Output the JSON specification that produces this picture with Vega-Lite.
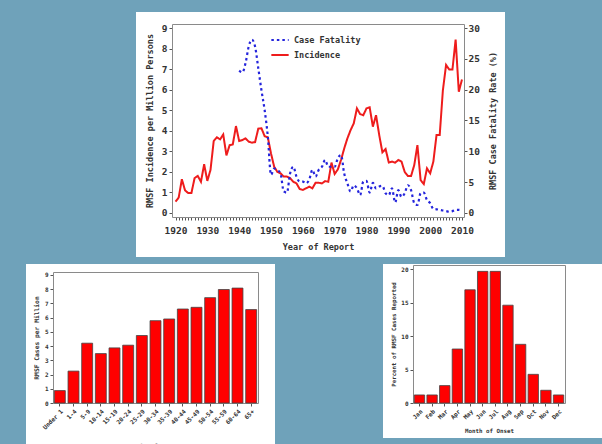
{
  "$schema": "https://vega.github.io/schema/vega-lite/v6.json",
  "background": "#6fa2ba",
  "padding": {"left": 26, "top": 12, "right": 0, "bottom": 0},
  "bounds": "full",
  "center": true,
  "spacing": 7,
  "config": {
    "axis": {"grid": false, "domainColor": "#8a8a8a", "tickColor": "#555555", "labelColor": "#333333", "titleColor": "#333333", "labelFont": "DejaVu Sans Mono", "titleFont": "DejaVu Sans Mono", "labelFontWeight": "bold", "titleFontWeight": "bold", "minExtent": 0, "labelFlush": false, "labelOverlap": false, "domainWidth": 1},
    "legend": {"orient": "none", "legendX": 244, "legendY": 18, "direction": "vertical", "labelFont": "DejaVu Sans Mono", "labelFontWeight": "bold", "labelColor": "#333333", "labelFontSize": 8.5, "padding": 0, "rowPadding": 0, "symbolSize": 300, "symbolStrokeWidth": 2, "labelOffset": 4}
  },
  "vconcat": [
    {
      "width": 369,
      "height": 245,
      "view": {"fill": "white", "stroke": null},
      "data": {"values": [
        {"year":1920,"series":"Incidence","value":0.55},{"year":1921,"series":"Incidence","value":0.75},{"year":1922,"series":"Incidence","value":1.64},{"year":1923,"series":"Incidence","value":1.1},{"year":1924,"series":"Incidence","value":0.97},{"year":1925,"series":"Incidence","value":0.97},{"year":1926,"series":"Incidence","value":1.7},{"year":1927,"series":"Incidence","value":1.8},{"year":1928,"series":"Incidence","value":1.52},{"year":1929,"series":"Incidence","value":2.37},
        {"year":1930,"series":"Incidence","value":1.56},{"year":1931,"series":"Incidence","value":2.1},{"year":1932,"series":"Incidence","value":3.5},{"year":1933,"series":"Incidence","value":3.68},{"year":1934,"series":"Incidence","value":3.58},{"year":1935,"series":"Incidence","value":3.82},{"year":1936,"series":"Incidence","value":2.8},{"year":1937,"series":"Incidence","value":3.3},{"year":1938,"series":"Incidence","value":3.34},{"year":1939,"series":"Incidence","value":4.23},
        {"year":1940,"series":"Incidence","value":3.5},{"year":1941,"series":"Incidence","value":3.55},{"year":1942,"series":"Incidence","value":3.63},{"year":1943,"series":"Incidence","value":3.47},{"year":1944,"series":"Incidence","value":3.42},{"year":1945,"series":"Incidence","value":3.45},{"year":1946,"series":"Incidence","value":4.1},{"year":1947,"series":"Incidence","value":4.12},{"year":1948,"series":"Incidence","value":3.74},{"year":1949,"series":"Incidence","value":3.68},
        {"year":1950,"series":"Incidence","value":2.9},{"year":1951,"series":"Incidence","value":2.25},{"year":1952,"series":"Incidence","value":2.0},{"year":1953,"series":"Incidence","value":1.93},{"year":1954,"series":"Incidence","value":1.77},{"year":1955,"series":"Incidence","value":1.77},{"year":1956,"series":"Incidence","value":1.7},{"year":1957,"series":"Incidence","value":1.52},{"year":1958,"series":"Incidence","value":1.44},{"year":1959,"series":"Incidence","value":1.17},
        {"year":1960,"series":"Incidence","value":1.12},{"year":1961,"series":"Incidence","value":1.2},{"year":1962,"series":"Incidence","value":1.28},{"year":1963,"series":"Incidence","value":1.2},{"year":1964,"series":"Incidence","value":1.47},{"year":1965,"series":"Incidence","value":1.47},{"year":1966,"series":"Incidence","value":1.44},{"year":1967,"series":"Incidence","value":1.55},{"year":1968,"series":"Incidence","value":1.52},{"year":1969,"series":"Incidence","value":2.45},
        {"year":1970,"series":"Incidence","value":1.9},{"year":1971,"series":"Incidence","value":2.12},{"year":1972,"series":"Incidence","value":2.58},{"year":1973,"series":"Incidence","value":3.14},{"year":1974,"series":"Incidence","value":3.63},{"year":1975,"series":"Incidence","value":4.03},{"year":1976,"series":"Incidence","value":4.36},{"year":1977,"series":"Incidence","value":5.09},{"year":1978,"series":"Incidence","value":4.81},{"year":1979,"series":"Incidence","value":4.76},
        {"year":1980,"series":"Incidence","value":5.09},{"year":1981,"series":"Incidence","value":5.14},{"year":1982,"series":"Incidence","value":4.2},{"year":1983,"series":"Incidence","value":4.76},{"year":1984,"series":"Incidence","value":3.79},{"year":1985,"series":"Incidence","value":2.95},{"year":1986,"series":"Incidence","value":3.11},{"year":1987,"series":"Incidence","value":2.46},{"year":1988,"series":"Incidence","value":2.5},{"year":1989,"series":"Incidence","value":2.45},
        {"year":1990,"series":"Incidence","value":2.58},{"year":1991,"series":"Incidence","value":2.5},{"year":1992,"series":"Incidence","value":2.0},{"year":1993,"series":"Incidence","value":1.8},{"year":1994,"series":"Incidence","value":1.8},{"year":1995,"series":"Incidence","value":2.33},{"year":1996,"series":"Incidence","value":3.3},{"year":1997,"series":"Incidence","value":1.6},{"year":1998,"series":"Incidence","value":1.41},{"year":1999,"series":"Incidence","value":2.17},
        {"year":2000,"series":"Incidence","value":1.93},{"year":2001,"series":"Incidence","value":2.5},{"year":2002,"series":"Incidence","value":3.79},{"year":2003,"series":"Incidence","value":3.79},{"year":2004,"series":"Incidence","value":5.98},{"year":2005,"series":"Incidence","value":7.2},{"year":2006,"series":"Incidence","value":6.98},{"year":2007,"series":"Incidence","value":6.98},{"year":2008,"series":"Incidence","value":8.44},{"year":2009,"series":"Incidence","value":5.9},{"year":2010,"series":"Incidence","value":6.5},
        {"year":1940,"series":"Case Fatality","value":23.1},{"year":1941,"series":"Case Fatality","value":22.8},{"year":1942,"series":"Case Fatality","value":24.3},{"year":1943,"series":"Case Fatality","value":27.0},{"year":1944,"series":"Case Fatality","value":28.1},{"year":1945,"series":"Case Fatality","value":27.0},{"year":1946,"series":"Case Fatality","value":23.5},{"year":1947,"series":"Case Fatality","value":19.9},{"year":1948,"series":"Case Fatality","value":16.7},{"year":1949,"series":"Case Fatality","value":12.4},
        {"year":1950,"series":"Case Fatality","value":6.2},{"year":1951,"series":"Case Fatality","value":7.2},{"year":1952,"series":"Case Fatality","value":7.0},{"year":1953,"series":"Case Fatality","value":6.4},{"year":1954,"series":"Case Fatality","value":3.5},{"year":1955,"series":"Case Fatality","value":3.3},{"year":1956,"series":"Case Fatality","value":6.4},{"year":1957,"series":"Case Fatality","value":7.5},{"year":1958,"series":"Case Fatality","value":5.9},{"year":1959,"series":"Case Fatality","value":5.1},
        {"year":1960,"series":"Case Fatality","value":5.1},{"year":1961,"series":"Case Fatality","value":4.8},{"year":1962,"series":"Case Fatality","value":5.4},{"year":1963,"series":"Case Fatality","value":7.0},{"year":1964,"series":"Case Fatality","value":5.9},{"year":1965,"series":"Case Fatality","value":7.0},{"year":1966,"series":"Case Fatality","value":7.5},{"year":1967,"series":"Case Fatality","value":8.6},{"year":1968,"series":"Case Fatality","value":7.5},{"year":1969,"series":"Case Fatality","value":7.5},
        {"year":1970,"series":"Case Fatality","value":7.5},{"year":1971,"series":"Case Fatality","value":8.9},{"year":1972,"series":"Case Fatality","value":9.4},{"year":1973,"series":"Case Fatality","value":6.4},{"year":1974,"series":"Case Fatality","value":4.8},{"year":1975,"series":"Case Fatality","value":3.5},{"year":1976,"series":"Case Fatality","value":4.5},{"year":1977,"series":"Case Fatality","value":4.0},{"year":1978,"series":"Case Fatality","value":2.9},{"year":1979,"series":"Case Fatality","value":5.1},
        {"year":1980,"series":"Case Fatality","value":5.2},{"year":1981,"series":"Case Fatality","value":3.3},{"year":1982,"series":"Case Fatality","value":4.9},{"year":1983,"series":"Case Fatality","value":4.0},{"year":1984,"series":"Case Fatality","value":4.3},{"year":1985,"series":"Case Fatality","value":4.4},{"year":1986,"series":"Case Fatality","value":3.2},{"year":1987,"series":"Case Fatality","value":2.9},{"year":1988,"series":"Case Fatality","value":4.0},{"year":1989,"series":"Case Fatality","value":1.7},
        {"year":1990,"series":"Case Fatality","value":3.7},{"year":1991,"series":"Case Fatality","value":2.6},{"year":1992,"series":"Case Fatality","value":3.2},{"year":1993,"series":"Case Fatality","value":4.5},{"year":1994,"series":"Case Fatality","value":3.7},{"year":1995,"series":"Case Fatality","value":1.6},{"year":1996,"series":"Case Fatality","value":1.3},{"year":1997,"series":"Case Fatality","value":3.2},{"year":1998,"series":"Case Fatality","value":3.3},{"year":1999,"series":"Case Fatality","value":2.1},
        {"year":2000,"series":"Case Fatality","value":1.6},{"year":2001,"series":"Case Fatality","value":0.65},{"year":2002,"series":"Case Fatality","value":0.6},{"year":2003,"series":"Case Fatality","value":0.5},{"year":2004,"series":"Case Fatality","value":0.4},{"year":2005,"series":"Case Fatality","value":0.3},{"year":2006,"series":"Case Fatality","value":0.2},{"year":2007,"series":"Case Fatality","value":0.3},{"year":2008,"series":"Case Fatality","value":0.5},{"year":2009,"series":"Case Fatality","value":0.5},{"year":2010,"series":"Case Fatality","value":0.4}
      ]},
      "layer": [
        {
          "transform": [{"filter": "datum.series === 'Incidence'"}],
          "mark": {"type": "line", "strokeWidth": 2},
          "encoding": {
            "x": {"field": "year", "type": "quantitative",
              "scale": {"domain": [1918.9, 2010.63], "range": [36, 328], "nice": false, "zero": false},
              "axis": {"orient": "bottom", "offset": -40, "values": [1920,1921,1922,1923,1924,1925,1926,1927,1928,1929,1930,1931,1932,1933,1934,1935,1936,1937,1938,1939,1940,1941,1942,1943,1944,1945,1946,1947,1948,1949,1950,1951,1952,1953,1954,1955,1956,1957,1958,1959,1960,1961,1962,1963,1964,1965,1966,1967,1968,1969,1970,1971,1972,1973,1974,1975,1976,1977,1978,1979,1980,1981,1982,1983,1984,1985,1986,1987,1988,1989,1990,1991,1992,1993,1994,1995,1996,1997,1998,1999,2000,2001,2002,2003,2004,2005,2006,2007,2008,2009,2010],
                "format": "d", "labelExpr": "datum.value % 10 === 0 ? datum.label : ''", "tickSize": 3, "labelPadding": 5, "labelFontSize": 9.5,
                "title": "Year of Report", "titleFontSize": 8.5, "titlePadding": 8}},
            "y": {"field": "value", "type": "quantitative",
              "scale": {"domain": [-0.195, 9.195], "range": [205, 12], "nice": false, "zero": false},
              "axis": {"orient": "left", "offset": -36, "values": [0,1,2,3,4,5,6,7,8,9], "tickSize": 3, "labelPadding": 2, "labelFontSize": 9.5,
                "title": "RMSF Incidence per Million Persons", "titleFontSize": 8.5, "titlePadding": 7}},
            "color": {"field": "series", "type": "nominal", "scale": {"domain": ["Case Fatality", "Incidence"], "range": ["#2424dc", "#ee1c1c"]},
              "legend": {"title": null, "orient": "none", "legendX": 244, "legendY": 18, "direction": "vertical"}},
            "strokeDash": {"field": "series", "type": "nominal", "scale": {"domain": ["Case Fatality", "Incidence"], "range": [[2.5, 3], [1, 0]]},
              "legend": {"title": null, "orient": "none", "legendX": 244, "legendY": 18, "direction": "vertical"}}
          }
        },
        {
          "transform": [{"filter": "datum.series === 'Case Fatality'"}],
          "mark": {"type": "line", "strokeWidth": 2.2, "interpolate": "monotone"},
          "encoding": {
            "x": {"field": "year", "type": "quantitative",
              "axis": {"orient": "top", "offset": -12, "labels": false, "ticks": false, "title": null}},
            "y": {"field": "value", "type": "quantitative",
              "scale": {"domain": [-0.65, 30.65], "range": [205, 12], "nice": false, "zero": false},
              "axis": {"orient": "right", "offset": -41, "values": [0,5,10,15,20,25,30], "tickSize": 3, "labelPadding": 1, "labelFontSize": 9.5,
                "title": "RMSF Case Fatality Rate (%)", "titleFontSize": 8.5, "titlePadding": 9, "titleAngle": 270, "titleBaseline": "top"}},
            "color": {"field": "series", "type": "nominal",
              "legend": {"title": null, "orient": "none", "legendX": 244, "legendY": 18, "direction": "vertical"}},
            "strokeDash": {"field": "series", "type": "nominal",
              "legend": {"title": null, "orient": "none", "legendX": 244, "legendY": 18, "direction": "vertical"}}
          }
        }
      ],
      "resolve": {"scale": {"y": "independent"}, "axis": {"x": "independent", "y": "independent"}}
    },
    {
      "hconcat": [
        {
          "width": 249,
          "height": 190,
          "view": {"fill": "white", "stroke": null},
          "data": {"values": [
            {"age": "Under 1", "rate": 0.87}, {"age": "1-4", "rate": 2.24}, {"age": "5-9", "rate": 4.2}, {"age": "10-14", "rate": 3.47}, {"age": "15-19", "rate": 3.87},
            {"age": "20-24", "rate": 4.06}, {"age": "25-29", "rate": 4.74}, {"age": "30-34", "rate": 5.78}, {"age": "35-39", "rate": 5.9}, {"age": "40-44", "rate": 6.6},
            {"age": "45-49", "rate": 6.72}, {"age": "50-54", "rate": 7.4}, {"age": "55-59", "rate": 7.97}, {"age": "60-64", "rate": 8.07}, {"age": "65+", "rate": 6.56}
          ]},
          "layer": [
            {
              "mark": {"type": "bar", "fill": "#ff0000", "stroke": "#444444", "strokeWidth": 0.8},
              "encoding": {
                "x": {"field": "age", "type": "nominal", "sort": null,
                  "scale": {"range": [27, 232], "paddingInner": 0.2, "paddingOuter": 0.1},
                  "axis": {"orient": "bottom", "offset": -51, "labelAngle": -45, "labelFontSize": 6, "tickSize": 3, "labelPadding": 2,
                    "title": "Age Group", "titleFontSize": 6, "titlePadding": 12}},
                "y": {"field": "rate", "type": "quantitative",
                  "scale": {"domain": [0, 9.2], "range": [139, 8], "nice": false, "zero": false},
                  "axis": {"orient": "left", "offset": -27, "values": [0,1,2,3,4,5,6,7,8,9], "labelFontSize": 6, "tickSize": 3, "labelPadding": 2,
                    "title": "RMSF Cases per Million", "titleFontSize": 6.3, "titlePadding": 5}}
              }
            },
            {
              "mark": {"type": "bar", "opacity": 0},
              "encoding": {
                "x": {"field": "age", "type": "nominal", "sort": null,
                  "axis": {"orient": "top", "offset": -8, "labels": false, "ticks": false, "title": null}},
                "y": {"field": "rate", "type": "quantitative",
                  "axis": {"orient": "right", "offset": -17, "labels": false, "ticks": false, "title": null}}
              }
            }
          ],
          "resolve": {"axis": {"x": "independent", "y": "independent"}}
        },
        {
          "width": 232,
          "height": 174,
          "view": {"fill": "white", "stroke": null},
          "data": {"values": [
            {"month": "Jan", "pct": 1.2}, {"month": "Feb", "pct": 1.2}, {"month": "Mar", "pct": 2.6}, {"month": "Apr", "pct": 8.06},
            {"month": "May", "pct": 16.9}, {"month": "Jun", "pct": 19.65}, {"month": "Jul", "pct": 19.65}, {"month": "Aug", "pct": 14.6},
            {"month": "Sep", "pct": 8.76}, {"month": "Oct", "pct": 4.28}, {"month": "Nov", "pct": 1.9}, {"month": "Dec", "pct": 1.2}
          ]},
          "layer": [
            {
              "mark": {"type": "bar", "fill": "#ff0000", "stroke": "#444444", "strokeWidth": 0.8},
              "encoding": {
                "x": {"field": "month", "type": "nominal", "sort": null,
                  "scale": {"range": [30, 182], "paddingInner": 0.18, "paddingOuter": 0.1},
                  "axis": {"orient": "bottom", "offset": -35, "labelAngle": -45, "labelFontSize": 6, "tickSize": 3, "labelPadding": 2,
                    "title": "Month of Onset", "titleFontSize": 5.8, "titlePadding": 8}},
                "y": {"field": "pct", "type": "quantitative",
                  "scale": {"domain": [0, 20.6], "range": [139, 1], "nice": false, "zero": false},
                  "axis": {"orient": "left", "offset": -30, "values": [0,5,10,15,20], "labelFontSize": 6, "tickSize": 3, "labelPadding": 2,
                    "title": "Percent of RMSF Cases Reported", "titleFontSize": 5.8, "titlePadding": 4}}
              }
            },
            {
              "mark": {"type": "bar", "opacity": 0},
              "encoding": {
                "x": {"field": "month", "type": "nominal", "sort": null,
                  "axis": {"orient": "top", "offset": -1, "labels": false, "ticks": false, "title": null}},
                "y": {"field": "pct", "type": "quantitative",
                  "axis": {"orient": "right", "offset": -50, "labels": false, "ticks": false, "title": null}}
              }
            }
          ],
          "resolve": {"axis": {"x": "independent", "y": "independent"}}
        }
      ],
      "spacing": 108,
      "bounds": "full"
    }
  ]
}
